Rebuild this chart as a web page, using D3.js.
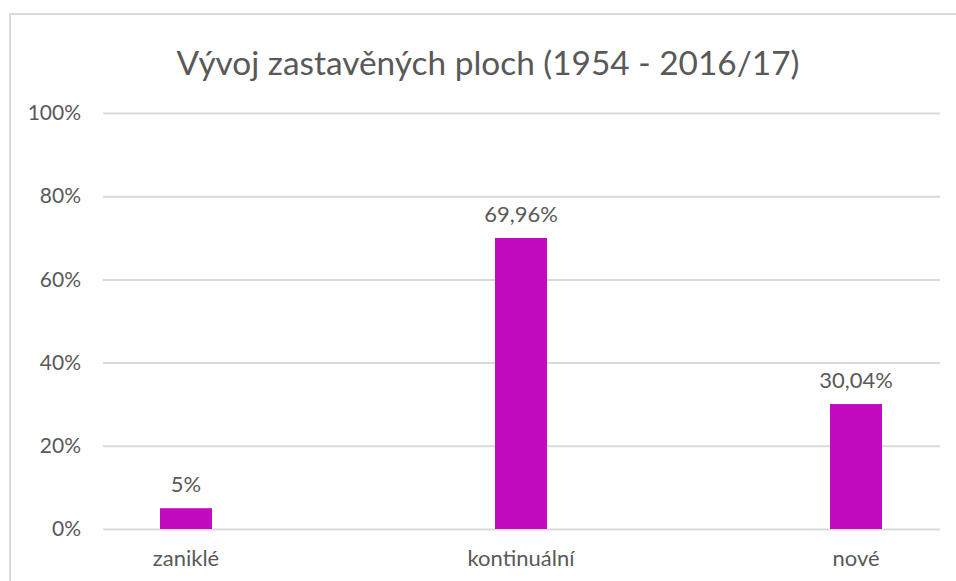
<!DOCTYPE html>
<html>
<head>
<meta charset="utf-8">
<script src="https://cdn.jsdelivr.net/npm/d3@7"></script>
<style>
  html, body { margin: 0; padding: 0; background: #fff; }
  svg { display: block; font-family: Lato, "Noto Sans", sans-serif; }
</style>
</head>
<body>
<div id="chart"></div>
<script>
(function(){
  'use strict';

  // data
  var categories = ["zaniklé", "kontinuální", "nové"];
  var values     = [0.05, 0.6996, 0.3004];
  var valueLabels = ["5%", "69,96%", "30,04%"];
  var yTicks     = [0, 0.2, 0.4, 0.6, 0.8, 1];
  var title      = "Vývoj zastavěných ploch (1954 - 2016/17)";

  var width = 956, height = 581;
  var textColor = "#595959";
  var gridColor = "#d9d9d9";
  var barColor  = "#c20bbf";

  var svg = d3.select("#chart")
    .append("svg")
    .attr("width", width)
    .attr("height", height);

  // chart frame (only top and left edges are visible)
  svg.append("rect")
    .attr("x", 10)
    .attr("y", 14)
    .attr("width", width + 20)
    .attr("height", height + 20)
    .attr("fill", "#fff")
    .attr("stroke", gridColor)
    .attr("stroke-width", 2);

  var y = d3.scaleLinear().domain([0, 1]).range([529, 113]);
  var x = d3.scalePoint().domain(categories).range([186, 856]);
  var barWidth = 52;
  var gridLeft = 103, gridRight = 940;

  // title
  svg.append("text")
    .attr("x", 488)
    .attr("y", 75)
    .attr("text-anchor", "middle")
    .attr("fill", textColor)
    .attr("font-size", 33.4)
    .text(title);

  // gridlines + y labels
  var yAxis = d3.axisLeft(y)
    .tickValues(yTicks)
    .tickSize(0)
    .tickPadding(22)
    .tickFormat(d3.format(".0%"));

  var gy = svg.append("g")
    .attr("transform", "translate(" + gridLeft + ",0)")
    .call(yAxis);
  gy.select(".domain").remove();
  gy.selectAll(".tick line")
    .attr("x1", 0)
    .attr("x2", gridRight - gridLeft)
    .attr("stroke", gridColor)
    .attr("stroke-width", 2);
  gy.selectAll(".tick text")
    .attr("fill", textColor)
    .attr("font-size", 21)
    .attr("font-family", "Lato, 'Noto Sans', sans-serif");

  // bars
  var data = categories.map(function(c, i){
    return { cat: c, value: values[i], label: valueLabels[i] };
  });

  svg.selectAll("rect.bar")
    .data(data)
    .enter()
    .append("rect")
    .attr("class", "bar")
    .attr("fill", barColor)
    .attr("x", function(d){ return x(d.cat) - barWidth / 2; })
    .attr("y", function(d){ return y(d.value); })
    .attr("width", barWidth)
    .attr("height", function(d){ return y(0) - y(d.value); });

  // value labels
  svg.selectAll("text.val")
    .data(data)
    .enter()
    .append("text")
    .attr("class", "val")
    .attr("text-anchor", "middle")
    .attr("fill", textColor)
    .attr("font-size", 22)
    .attr("x", function(d){ return x(d.cat); })
    .attr("y", function(d){ return y(d.value) - 16; })
    .text(function(d){ return d.label; });

  // category labels
  svg.selectAll("text.cat")
    .data(categories)
    .enter()
    .append("text")
    .attr("class", "cat")
    .attr("text-anchor", "middle")
    .attr("fill", textColor)
    .attr("font-size", 22)
    .attr("x", function(d){ return x(d); })
    .attr("y", 566)
    .text(function(d){ return d; });

})();
</script>
</body>
</html>
